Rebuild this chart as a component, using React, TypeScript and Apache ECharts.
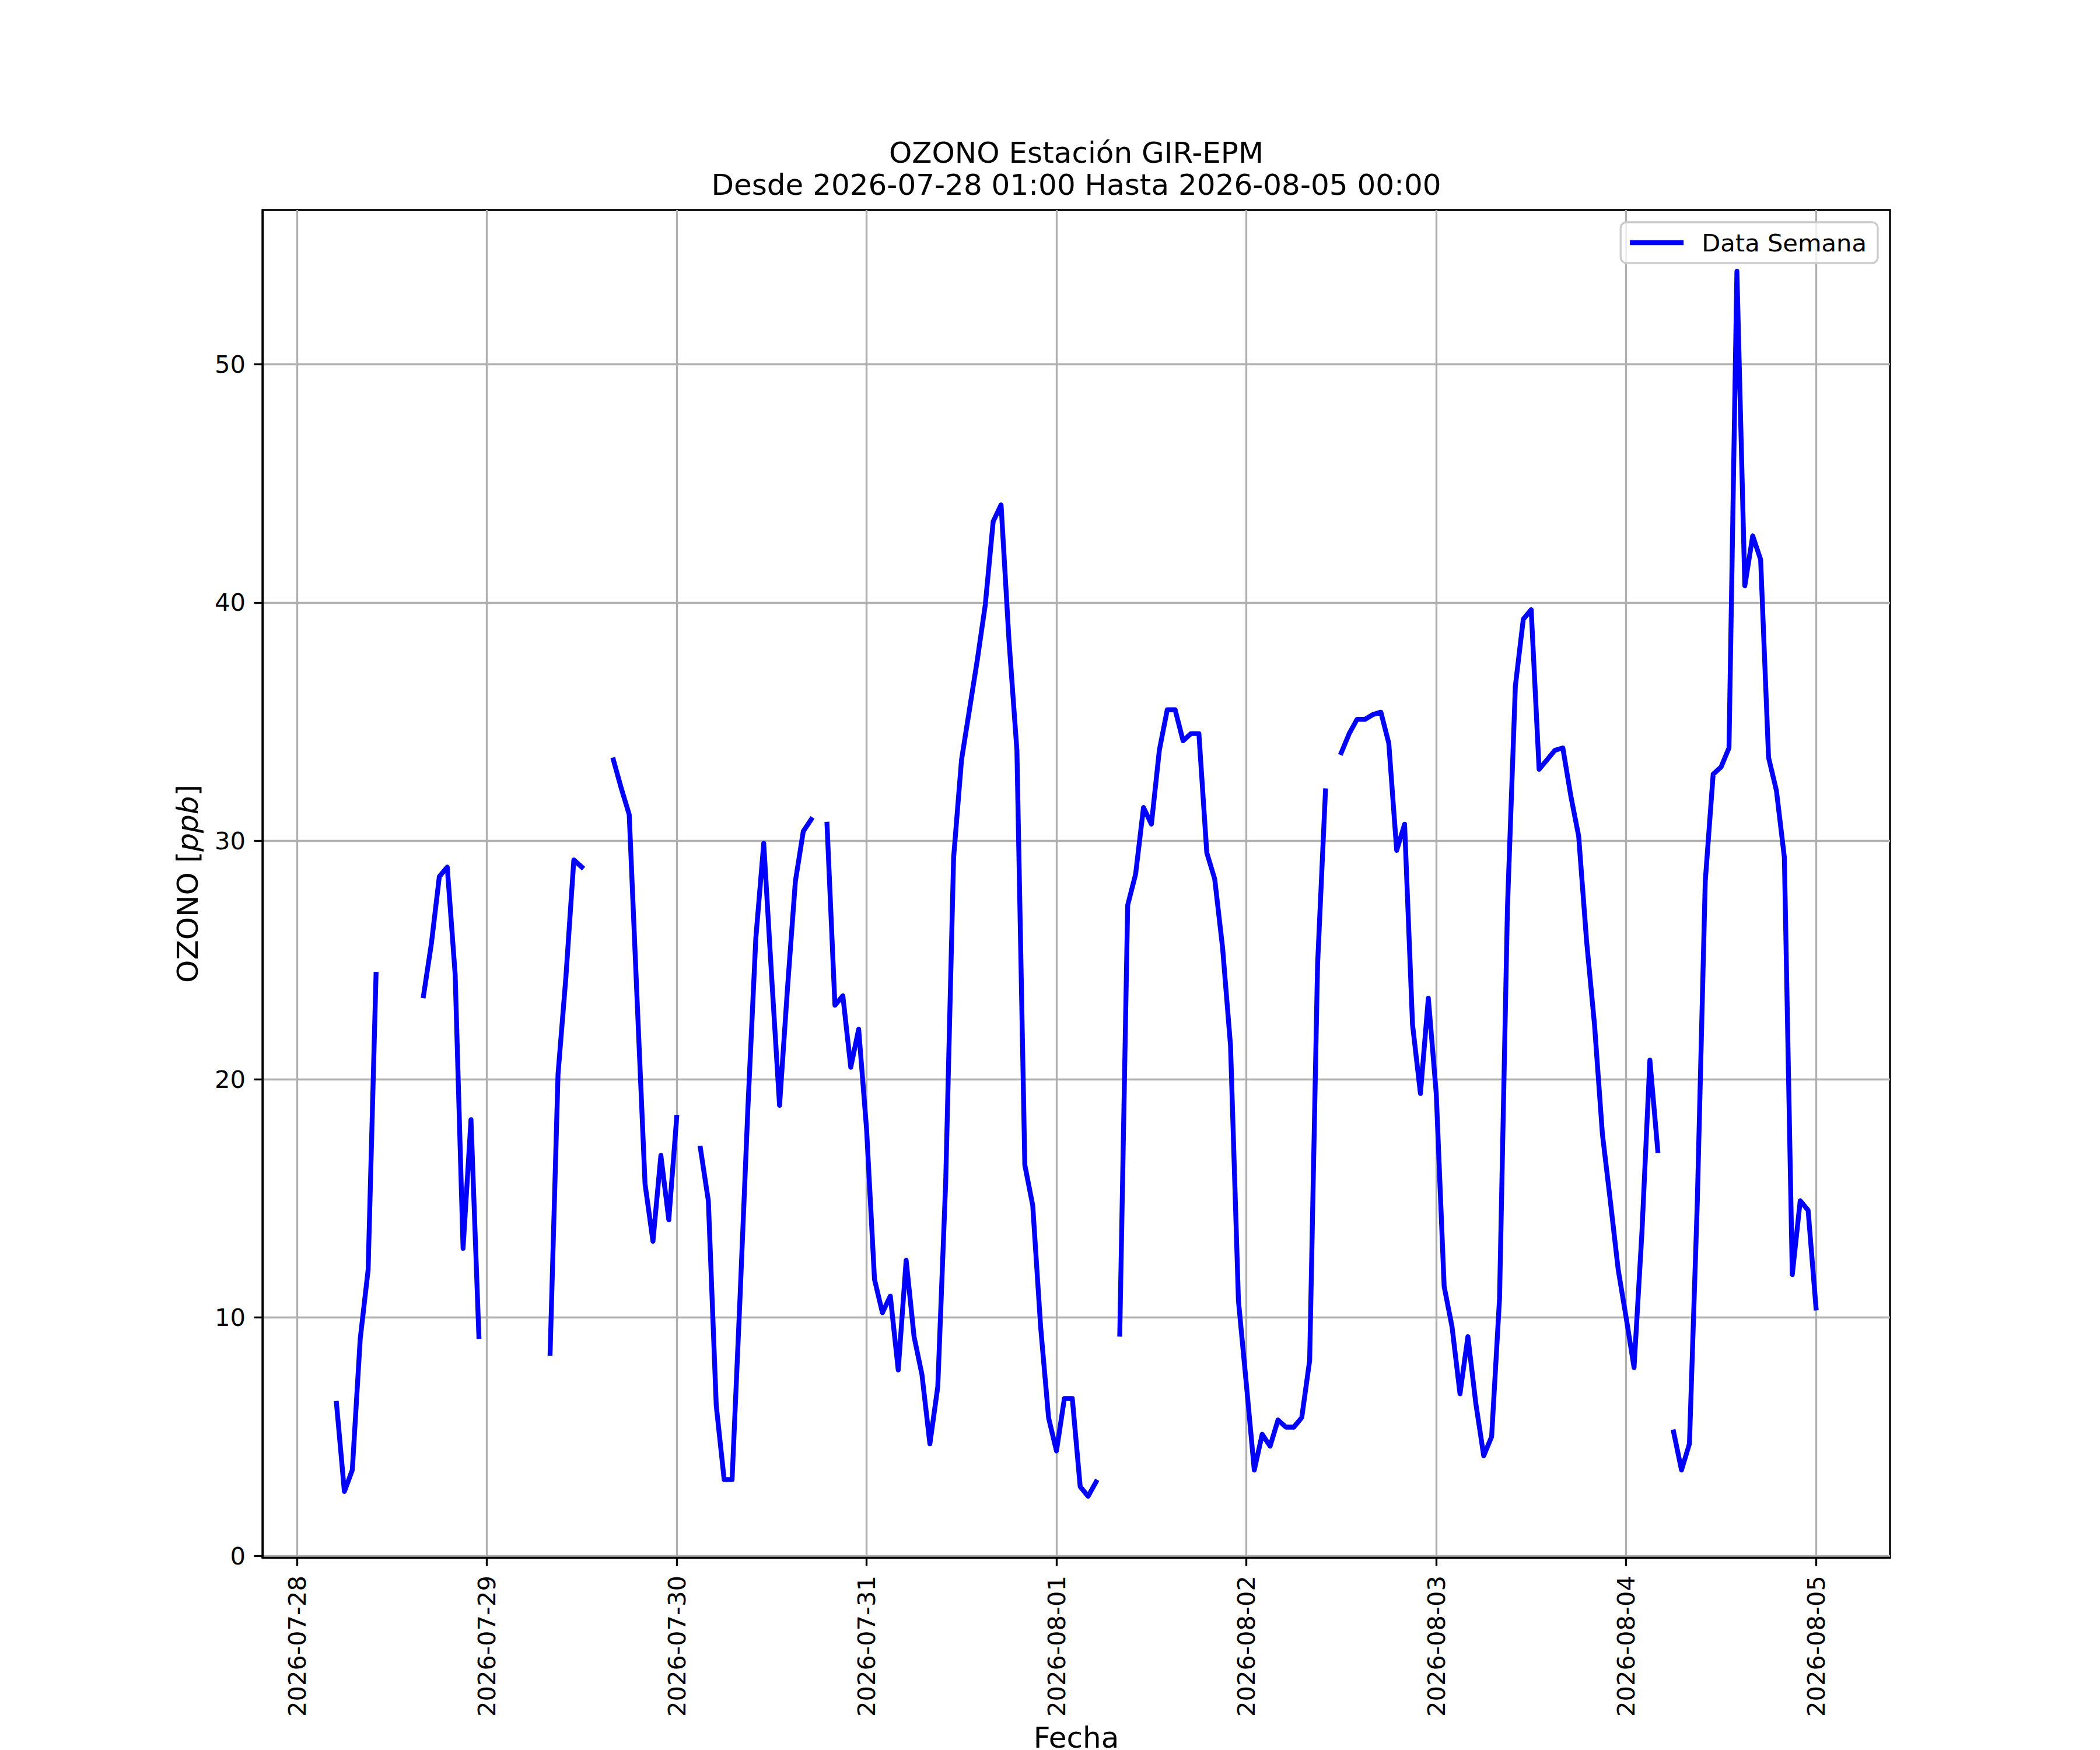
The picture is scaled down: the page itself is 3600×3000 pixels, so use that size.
import React, { useEffect, useRef } from "react";
import * as echarts from "echarts";

// Tick labels (dates at midnight) and their hour offsets from 2026-07-28 00:00
const dayLabels = [
  "2026-07-28", "2026-07-29", "2026-07-30", "2026-07-31", "2026-08-01",
  "2026-08-02", "2026-08-03", "2026-08-04", "2026-08-05",
];
const tickHours = [0, 24, 48, 72, 96, 120, 144, 168, 192];
const yTicks = [0, 10, 20, 30, 40, 50];

// Hourly ozone values (ppb), hours 00..23 of each day; null = missing
const d0728 = [null, null, null, null, null, 6.4, 2.7, 3.6, 9.1, 12.0, 24.4, null, null, null, null, null, 23.5, 25.7, 28.5, 28.9, 24.4, 12.9, 18.3, 9.2];
const d0729 = [null, null, null, null, null, null, null, null, 8.5, 20.2, 24.3, 29.2, 28.9, null, null, null, 33.4, 32.2, 31.1, 23.3, 15.6, 13.2, 16.8, 14.1];
const d0730 = [18.4, null, null, 17.1, 14.9, 6.3, 3.2, 3.2, 10.8, 18.8, 25.9, 29.9, 24.3, 18.9, 23.8, 28.3, 30.4, 30.9, null, 30.7, 23.1, 23.5, 20.5, 22.1];
const d0731 = [17.9, 11.6, 10.2, 10.9, 7.8, 12.4, 9.2, 7.6, 4.7, 7.1, 15.7, 29.3, 33.4, 35.5, 37.6, 39.9, 43.4, 44.1, 38.4, 33.8, 16.4, 14.7, 9.6, 5.8];
const d0801 = [4.4, 6.6, 6.6, 2.9, 2.5, 3.1, null, null, 9.3, 27.3, 28.6, 31.4, 30.7, 33.8, 35.5, 35.5, 34.2, 34.5, 34.5, 29.5, 28.4, 25.5, 21.4, 10.7];
const d0802 = [7.2, 3.6, 5.1, 4.6, 5.7, 5.4, 5.4, 5.8, 8.2, 24.8, 32.1, null, 33.7, 34.5, 35.1, 35.1, 35.3, 35.4, 34.1, 29.6, 30.7, 22.3, 19.4, 23.4];
const d0803 = [19.4, 11.3, 9.6, 6.8, 9.2, 6.4, 4.2, 5.0, 10.8, 27.2, 36.5, 39.3, 39.7, 33.0, 33.4, 33.8, 33.9, 31.9, 30.2, 25.8, 22.3, 17.7, 14.9, 12.0];
const d0804 = [10.0, 7.9, 13.6, 20.8, 17.0, null, 5.2, 3.6, 4.7, 14.9, 28.3, 32.8, 33.1, 33.9, 53.9, 40.7, 42.8, 41.8, 33.5, 32.1, 29.3, 11.8, 14.9, 14.5];
const d0805 = [10.4];

const FONT = "DejaVu Sans";

export default function App() {
  const ref = useRef<HTMLDivElement>(null);

  useEffect(() => {
    document.body.style.margin = "0";
    const chart = echarts.init(ref.current as HTMLDivElement, null, {
      renderer: "svg",
      width: 3600,
      height: 3000,
    });

    const all = [...d0728, ...d0729, ...d0730, ...d0731, ...d0801, ...d0802, ...d0803, ...d0804, ...d0805];
    const data = all.map((v, i) => [i, v]);

    const option: any = {
      animation: false,
      backgroundColor: "#ffffff",
      textStyle: { fontFamily: FONT },
      grid: {
        left: 450,
        top: 360,
        width: 2790,
        height: 2310,
        show: true,
        borderColor: "#000000",
        borderWidth: 3.33,
        backgroundColor: "transparent",
        containLabel: false,
        outerBoundsMode: "none",
      },
      xAxis: {
        type: "value",
        min: -4.35,
        max: 201.35,
        axisLine: { show: true, onZero: false, lineStyle: { color: "#000", width: 3.33 } },
        axisTick: {
          show: true,
          inside: false,
          length: 14.6,
          customValues: tickHours,
          lineStyle: { color: "#000", width: 3.33 },
        },
        axisLabel: {
          customValues: tickHours,
          rotate: 90,
          margin: 31,
          fontSize: 41.67,
          color: "#000",
          fontFamily: FONT,
          formatter: (v: number) => dayLabels[Math.round(v / 24)] ?? "",
        },
        splitLine: { show: true, lineStyle: { color: "#b0b0b0", width: 3.33 } },
      },
      yAxis: {
        type: "value",
        min: -0.07,
        max: 56.47,
        axisLine: { show: true, onZero: false, lineStyle: { color: "#000", width: 3.33 } },
        axisTick: {
          show: true,
          inside: false,
          length: 14.6,
          customValues: yTicks,
          lineStyle: { color: "#000", width: 3.33 },
        },
        axisLabel: {
          customValues: yTicks,
          margin: 29,
          fontSize: 41.67,
          color: "#000",
          fontFamily: FONT,
        },
        splitLine: { show: true, lineStyle: { color: "#b0b0b0", width: 3.33 } },
      },
      legend: {
        data: ["Data Semana"],
        right: 381,
        top: 381,
        orient: "horizontal",
        icon: "rect",
        itemWidth: 92,
        itemHeight: 8.3,
        padding: [14, 19, 14, 16],
        backgroundColor: "rgba(255,255,255,0.8)",
        borderColor: "#cccccc",
        borderWidth: 3.3,
        borderRadius: 10,
        textStyle: { fontSize: 41.67, color: "#000", fontFamily: FONT, padding: [0, 0, 0, 26] },
      },
      series: [
        {
          name: "Data Semana",
          type: "line",
          data,
          showSymbol: false,
          connectNulls: false,
          color: "#0000ff",
          lineStyle: { color: "#0000ff", width: 8.33, cap: "square", join: "round" },
          emphasis: { disabled: true },
          z: 3,
        },
      ],
      graphic: [
        {
          type: "text",
          x: 1845,
          y: 262,
          style: {
            text: "OZONO Estación GIR-EPM",
            fontSize: 50,
            fontFamily: FONT,
            fill: "#000",
            align: "center",
            verticalAlign: "middle",
          },
        },
        {
          type: "text",
          x: 1845,
          y: 317,
          style: {
            text: "Desde 2026-07-28 01:00 Hasta 2026-08-05 00:00",
            fontSize: 50,
            fontFamily: FONT,
            fill: "#000",
            align: "center",
            verticalAlign: "middle",
          },
        },
        {
          type: "text",
          x: 1845,
          y: 2979,
          style: {
            text: "Fecha",
            fontSize: 50,
            fontFamily: FONT,
            fill: "#000",
            align: "center",
            verticalAlign: "middle",
          },
        },
        {
          type: "text",
          x: 322,
          y: 1515,
          rotation: Math.PI / 2,
          style: {
            text: "{n|OZONO [}{i|ppb}{n|]}",
            align: "center",
            verticalAlign: "middle",
            fill: "#000",
            fontSize: 50,
            fontFamily: FONT,
            rich: {
              n: { fontSize: 50, fontFamily: FONT, fill: "#000" },
              i: { fontSize: 50, fontFamily: FONT, fontStyle: "italic", fill: "#000" },
            },
          },
        },
      ],
    };

    chart.setOption(option);
    return () => chart.dispose();
  }, []);

  return <div ref={ref} style={{ width: 3600, height: 3000 }} />;
}
